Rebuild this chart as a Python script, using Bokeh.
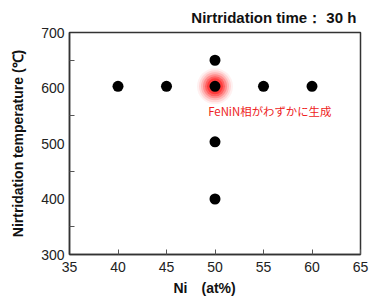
from bokeh.plotting import figure
from bokeh.models import ColumnDataSource, Title, FixedTicker
from bokeh.embed import file_html
from bokeh.resources import INLINE
from bokeh.core.properties import value

ni = [40, 45, 50, 55, 60, 50, 50, 50]
temp = [603, 603, 603, 603, 603, 650, 503, 400]
glow_ni = [50]
glow_temp = [603]
x_ticks = [35, 40, 45, 50, 55, 60, 65]
y_ticks = [300, 400, 500, 600, 700]
y_minor = [350, 450, 550, 650]
note = "FeNiN相がわずかに生成"
title = "Nirtridation time：  30 h"
x_label = "Ni　(at%)"
y_label = "Nirtridation temperature (℃)"

p = figure(width=369, height=300, output_backend="svg", toolbar_location=None,
           x_range=(35, 65), y_range=(300, 700),
           min_border_left=69, min_border_right=9, min_border_bottom=46, min_border_top=10)
p.title.text = title
p.title.align = "right"
p.title.text_font = "Liberation Sans"
p.title.text_font_size = "15px"
p.title.text_font_style = "bold"
p.title.text_color = "#111111"
p.title.offset = 0
p.title.standoff = 13

p.grid.visible = False
p.outline_line_color = "#333333"
p.outline_line_width = 1.5

src = ColumnDataSource(dict(x=ni, y=temp))
gsrc = ColumnDataSource(dict(x=glow_ni, y=glow_temp))
for s, a in [(36, 0.06), (32, 0.1), (28, 0.15), (24, 0.22), (20, 0.3), (16, 0.4)]:
    p.scatter("x", "y", source=gsrc, size=s, color="#ff0000", alpha=a, line_color=None)
p.scatter("x", "y", source=src, size=11, color="black", line_color=None)

p.text(x=[49.3], y=[559], text=[note], text_font=value("Noto Sans CJK JP"),
       text_font_size="11.4px", text_color="#ee2222", text_baseline="middle", text_align="left")

p.xaxis.ticker = FixedTicker(ticks=x_ticks)
p.yaxis.ticker = FixedTicker(ticks=y_ticks, minor_ticks=y_minor)
for ax in (p.xaxis[0], p.yaxis[0]):
    ax.axis_line_color = "#333333"
    ax.axis_line_width = 1.5
    ax.major_label_text_font = "Liberation Sans"
    ax.major_label_text_font_size = "14px"
    ax.major_label_text_color = "#222222"
    ax.axis_label_text_font = "Liberation Sans"
    ax.axis_label_text_font_size = "14px"
    ax.axis_label_text_font_style = "bold"
    ax.axis_label_text_color = "#111111"
    ax.major_tick_line_color = "#555555"
    ax.minor_tick_line_color = "#555555"

p.xaxis.major_tick_in = 5
p.xaxis.major_tick_out = 0
p.xaxis.minor_tick_in = 0
p.xaxis.minor_tick_out = 0
p.xaxis.major_label_standoff = 7

xt = Title(text=x_label, align="left", offset=104, text_font="Liberation Sans",
           text_font_size="14px", text_font_style="bold", text_color="#111111", standoff=6)
p.add_layout(xt, "below")

p.yaxis.major_tick_in = 0
p.yaxis.major_tick_out = 0
p.yaxis.minor_tick_in = 5
p.yaxis.minor_tick_out = 0
p.yaxis.major_label_standoff = 5
p.yaxis.axis_label = y_label
p.yaxis.axis_label_standoff = 12

open("out.html", "w").write(file_html(p, INLINE))
